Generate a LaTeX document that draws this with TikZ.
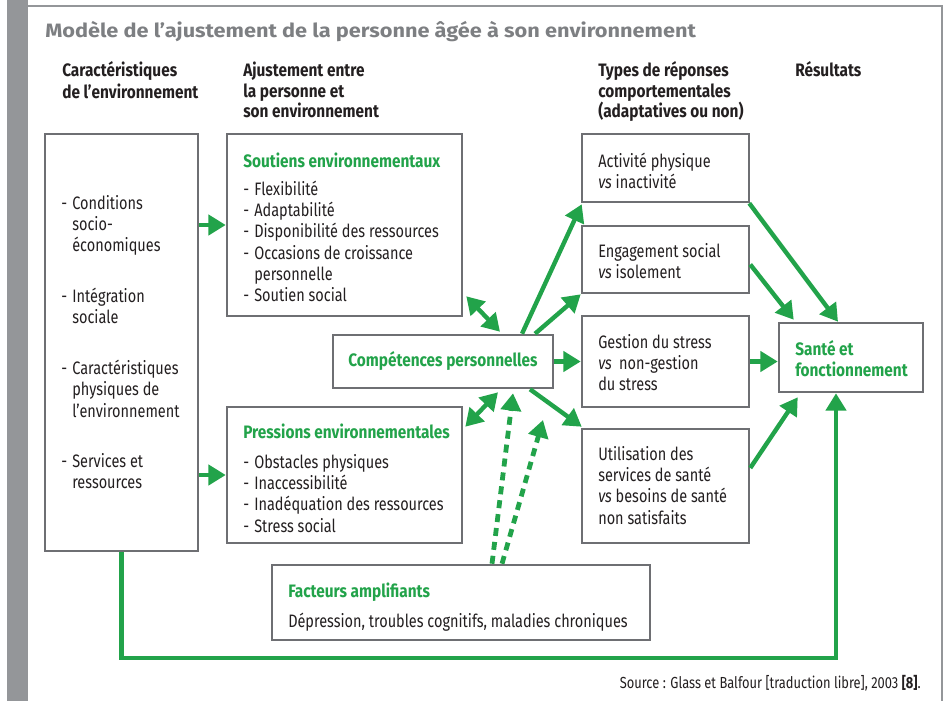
\documentclass[tikz,border=0pt]{standalone}
\usepackage{fontspec}
\setmainfont{Fira Sans}[FakeStretch=0.805]
\newfontfamily\bcond{Fira Sans}[FakeStretch=0.855]
\newfontfamily\titlefont{Fira Sans}[FakeStretch=1.125]
\usetikzlibrary{arrows.meta,fit,calc}
\definecolor{grn}{RGB}{34,163,74}
\definecolor{boxgray}{RGB}{110,111,115}
\definecolor{framegray}{RGB}{148,150,153}
\definecolor{titlegray}{RGB}{125,127,130}
\definecolor{txt}{RGB}{35,31,32}
\newcommand\itm{\makebox[8.3pt][l]{-}}
\newcommand\ind{\hspace*{8.3pt}}
\begin{document}
\begin{tikzpicture}[x=0.75pt,y=-0.75pt,
  box/.style={draw=boxgray, line width=1.9pt, inner sep=0pt, fill=white},
  body/.style={anchor=north west, inner sep=0pt, align=left, text=txt, font=\fontsize{13.5}{16}\selectfont},
  gtitle/.style={anchor=north west, inner sep=0pt, align=left, text=grn, font=\bcond\fontsize{13.5}{16}\selectfont\bfseries},
  header/.style={anchor=north west, inner sep=0pt, align=left, text=txt, font=\bcond\fontsize{13.5}{15.4}\selectfont\bfseries},
  arr/.style={draw=grn, line width=3.3pt, -{Triangle[length=13pt,width=15pt]}},
  dbl/.style={draw=grn, line width=3.3pt, {Triangle[length=13pt,width=15pt]}-{Triangle[length=13pt,width=15pt]}},
  dotarr/.style={draw=grn, line width=3.6pt, dash pattern=on 6pt off 4.5pt, -{Triangle[length=13pt,width=15pt]}}
]
\useasboundingbox (0,0) rectangle (946,701);
% frame
\fill[framegray] (7,0) rectangle (28,701);
\draw[framegray, line width=2pt] (28,6) -- (942,6) -- (942,701);

% title and headers
\node[anchor=base west, inner sep=0pt, text=titlegray, font=\titlefont\bfseries\fontsize{14.5}{17}\selectfont] (title) at (45,37) {Modèle de l’ajustement de la personne âgée à son environnement};
\node[header] (h1) at (62,61.6) {\strut Caractéristiques\\de l’environnement};
\node[header] (h2) at (243,61.6) {\strut Ajustement entre\\la personne et\\son environnement};
\node[header] (h3) at (598,61.6) {\strut Types de réponses\\comportementales\\(adaptatives ou non)};
\node[header] (h4) at (795,61.6) {\strut Résultats};

% boxes
\node[box, fit={(45,134) (198,551)}] (env) {};
\node[box, fit={(227,134) (462,316)}] (sout) {};
\node[box, fit={(227,407) (462,543)}] (press) {};
\node[box, fit={(333,335) (553,388)}] (comp) {};
\node[box, fit={(582,134) (749,202)}] (act) {};
\node[box, fit={(582,226) (749,293)}] (eng) {};
\node[box, fit={(582,316) (749,407)}] (gest) {};
\node[box, fit={(582,429) (749,543)}] (util) {};
\node[box, fit={(779,323) (923,392)}] (sante) {};
\node[box, fit={(272,565) (650,640)}] (fact) {};

% texts
\node[body] (envt) at (61,194.1) {\strut\itm Conditions\\\ind socio-\\\ind économiques\\[22pt]\itm Intégration\\\ind sociale\\[22pt]\itm Caractéristiques\\\ind physiques de\\\ind l’environnement\\[21.6pt]\itm Services et\\\ind ressources};
\node[gtitle] (soutt) at (243,152.1) {\strut Soutiens environnementaux};
\node[body] (souti) at (243,180.1) {\strut\itm Flexibilité\\\itm Adaptabilité\\\itm Disponibilité des ressources\\\itm Occasions de croissance\\\ind personnelle\\\itm Soutien social};
\node[gtitle] (presst) at (243,423.1) {\strut Pressions environnementales};
\node[body] (pressi) at (243,452.8) {\strut\itm Obstacles physiques\\\itm Inaccessibilité\\\itm Inadéquation des ressources\\\itm Stress social};
\node[anchor=base, inner sep=0pt, text=grn, font=\bcond\fontsize{13.5}{16}\selectfont\bfseries] (compt) at (443,366.5) {Compétences personnelles};
\node[body] (actt) at (598,151.8) {\strut Activité physique\\\textit{vs} inactivité};
\node[body] (engt) at (598,241.8) {\strut Engagement social\\\textit{vs} isolement};
\node[body] (gestt) at (598,332.8) {\strut Gestion du stress\\\textit{vs}\hspace{2.5pt} non-gestion\\du stress};
\node[body] (utilt) at (598,445.1) {\strut Utilisation des\\services de santé\\\textit{vs} besoins de santé\\non satisfaits};
\node[gtitle] (santet) at (795,340.1) {\strut Santé et\\fonctionnement};
\node[anchor=base west, inner sep=0pt, text=grn, font=\bcond\fontsize{13.5}{16}\selectfont\bfseries] (factt) at (288,597) {Facteurs amplifiants};
\node[anchor=base west, inner sep=0pt, text=txt, font=\fontsize{13.5}{16}\selectfont] (facti) at (288,627) {Dépression, troubles cognitifs, maladies chroniques};
\node[anchor=base east, inner sep=0pt, text=txt, font=\fontsize{12}{14}\selectfont] (src) at (921,688) {Source : Glass et Balfour [traduction libre], 2003 \textbf{[8]}.};

% connectors
\draw[arr] (env.east |- sout.west) -- (sout.west);
\draw[arr] (env.east |- press.west) -- (press.west);
\draw[dbl] ($(sout.south east)+(3,-21)$) -- ($(comp.north)+(57,-2)$);
\draw[dbl] ($(press.north east)+(2,21)$) -- ($(comp.south)+(55,3)$);
\draw[arr] ($(comp.north)+(79,0)$) -- ($(act.south west)+(1,1)$);
\draw[arr] ($(comp.north)+(92,0)$) -- (eng.south west);
\draw[arr] (comp.east) -- (comp.east -| gest.west);
\draw[arr] ($(comp.south)+(87,0)$) -- ($(util.north west)+(1,-1)$);
\draw[arr] ($(act.south east)+(-1,0)$) -- ($(sante.north)+(-13,0)$);
\draw[arr] ($(eng.east)+(0,5)$) -- ($(sante.north west)+(16,-2)$);
\draw[arr] (gest.east) -- (gest.east -| sante.west);
\draw[arr] ($(util.east)+(0,-18)$) -- ($(sante.south west)+(20,4)$);
\coordinate (loopR) at (836,658);
\draw[arr, line join=miter] (env.south) |- (loopR) -- (loopR |- sante.south);
\coordinate (dotB) at (543,420);
\draw[dotarr] ($(fact.north)+(31,0)$) -- ($(comp.south)+(70,4)$);
\draw[dotarr] ($(fact.north)+(41,0)$) -- (dotB);
\end{tikzpicture}
\end{document}
